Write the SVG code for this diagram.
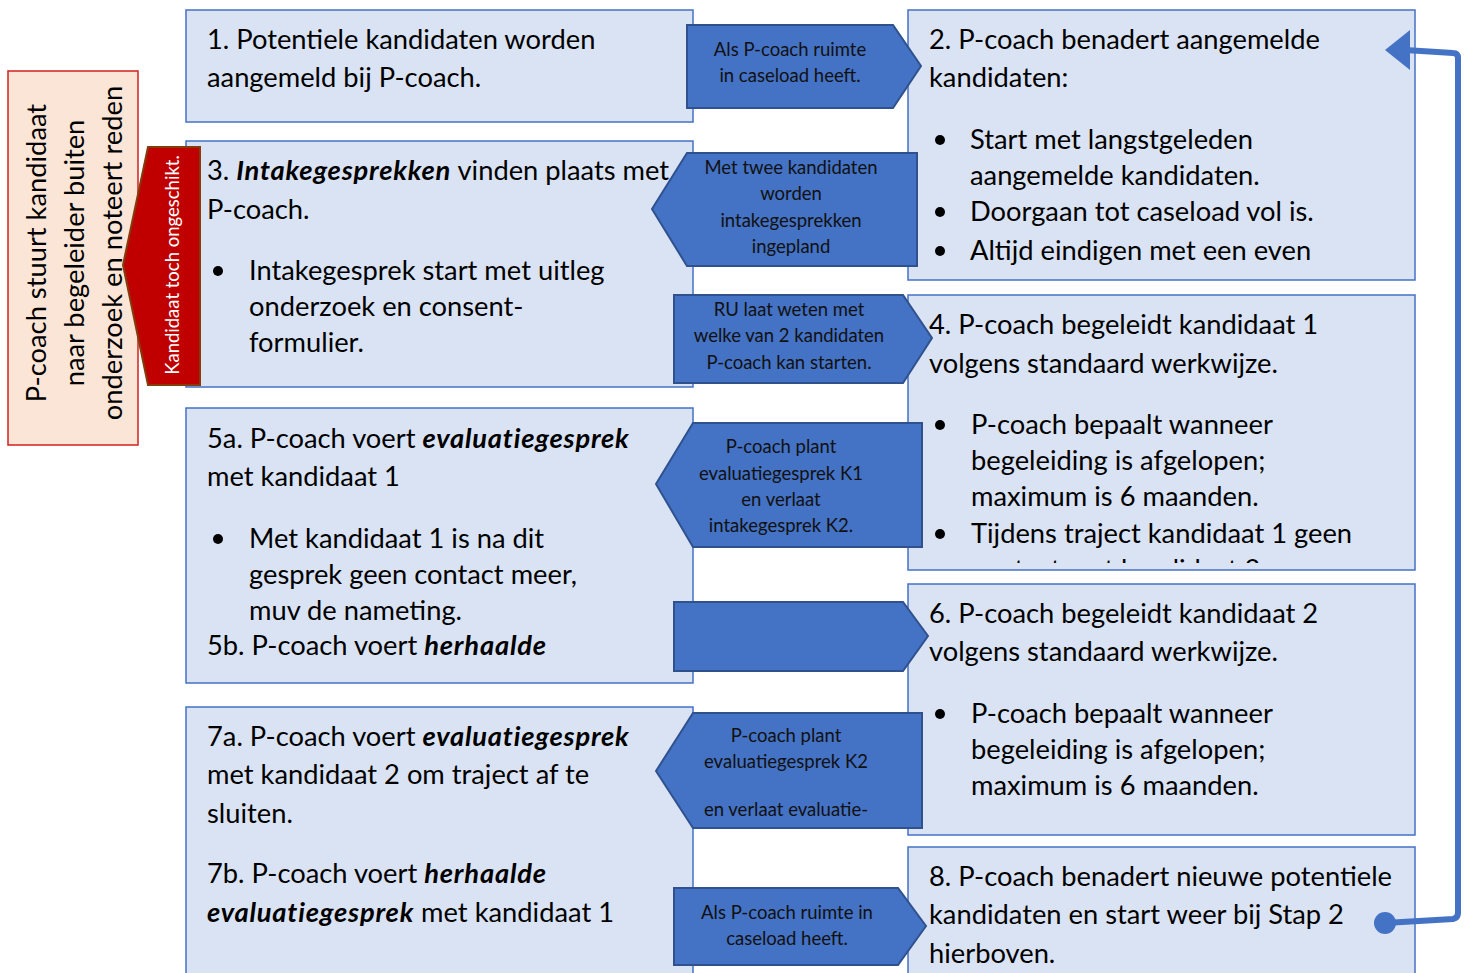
<svg xmlns="http://www.w3.org/2000/svg" width="1469" height="973" viewBox="0 0 1469 973">
<style>
.box{fill:#DAE3F3;stroke:#4472C4;stroke-width:1.5}
.arr{fill:#4472C4;stroke:#2F528F;stroke-width:2}
.t{font-family:Lato,"Liberation Sans",sans-serif;font-size:27.3px;fill:#000}
.s{font-family:Lato,"Liberation Sans",sans-serif;font-size:18.5px;fill:#111;text-anchor:middle}
.bi{font-weight:bold;font-style:italic;letter-spacing:0.8px}
.dot{fill:#000}
</style>
<defs>
<clipPath id="c4"><rect x="908" y="295" width="507" height="268"/></clipPath>
</defs>
<rect width="1469" height="973" fill="#fff"/>

<g id="reject-box">
<rect x="8" y="71" width="130" height="374" fill="#FBE5D6" stroke="#D42020" stroke-width="1.5"/>
<g class="t" text-anchor="middle">
<text transform="translate(46,253) rotate(-90)">P-coach stuurt kandidaat</text>
<text transform="translate(84,253) rotate(-90)">naar begeleider buiten</text>
<text transform="translate(122,253) rotate(-90)">onderzoek en noteert reden</text>
</g>
</g>

<g id="node1">
<rect class="box" x="186" y="10" width="507" height="112"/>
<text class="t" x="207" y="49">1. Potentiele kandidaten worden</text>
<text class="t" x="207" y="87">aangemeld bij P-coach.</text>
</g>

<g id="node3">
<rect class="box" x="186" y="141" width="507" height="246"/>
<text class="t" x="207" y="180">3. <tspan class="bi">Intakegesprekken</tspan> vinden plaats met</text>
<text class="t" x="207" y="219">P-coach.</text>
<circle class="dot" cx="218" cy="271" r="5"/>
<text class="t" x="249" y="280">Intakegesprek start met uitleg</text>
<text class="t" x="249" y="316">onderzoek en consent-</text>
<text class="t" x="249" y="352">formulier.</text>
</g>

<g id="node5">
<rect class="box" x="186" y="408" width="507" height="275"/>
<text class="t" x="207" y="448">5a. P-coach voert <tspan class="bi">evaluatiegesprek</tspan></text>
<text class="t" x="207" y="486">met kandidaat 1</text>
<circle class="dot" cx="218" cy="539" r="5"/>
<text class="t" x="249" y="548">Met kandidaat 1 is na dit</text>
<text class="t" x="249" y="584">gesprek geen contact meer,</text>
<text class="t" x="249" y="620">muv de nameting.</text>
<text class="t" x="207" y="655">5b. P-coach voert <tspan class="bi">herhaalde</tspan></text>
</g>

<g id="node7">
<rect class="box" x="186" y="707" width="507" height="280"/>
<text class="t" x="207" y="746">7a. P-coach voert <tspan class="bi">evaluatiegesprek</tspan></text>
<text class="t" x="207" y="784">met kandidaat 2 om traject af te</text>
<text class="t" x="207" y="823">sluiten.</text>
<text class="t" x="207" y="883">7b. P-coach voert <tspan class="bi">herhaalde</tspan></text>
<text class="t" x="207" y="922"><tspan class="bi">evaluatiegesprek</tspan> met kandidaat 1</text>
</g>

<g id="node2">
<rect class="box" x="908" y="10" width="507" height="270"/>
<text class="t" x="929" y="49">2. P-coach benadert aangemelde</text>
<text class="t" x="929" y="87">kandidaten:</text>
<circle class="dot" cx="940" cy="140" r="5"/>
<text class="t" x="970" y="149">Start met langstgeleden</text>
<text class="t" x="970" y="185">aangemelde kandidaten.</text>
<circle class="dot" cx="940" cy="212" r="5"/>
<text class="t" x="970" y="221">Doorgaan tot caseload vol is.</text>
<circle class="dot" cx="940" cy="251" r="5"/>
<text class="t" x="970" y="260">Altijd eindigen met een even</text>
</g>

<g id="node4">
<rect class="box" x="908" y="295" width="507" height="275"/>
<text class="t" x="929" y="334">4. P-coach begeleidt kandidaat 1</text>
<text class="t" x="929" y="373">volgens standaard werkwijze.</text>
<circle class="dot" cx="940" cy="425" r="5"/>
<text class="t" x="971" y="434">P-coach bepaalt wanneer</text>
<text class="t" x="971" y="470">begeleiding is afgelopen;</text>
<text class="t" x="971" y="506">maximum is 6 maanden.</text>
<circle class="dot" cx="940" cy="534" r="5"/>
<text class="t" x="971" y="543">Tijdens traject kandidaat 1 geen</text>
<text class="t" x="971" y="579" clip-path="url(#c4)">contact met kandidaat 2</text>
</g>

<g id="node6">
<rect class="box" x="908" y="584" width="507" height="251"/>
<text class="t" x="929" y="623">6. P-coach begeleidt kandidaat 2</text>
<text class="t" x="929" y="661">volgens standaard werkwijze.</text>
<circle class="dot" cx="940" cy="714" r="5"/>
<text class="t" x="971" y="723">P-coach bepaalt wanneer</text>
<text class="t" x="971" y="759">begeleiding is afgelopen;</text>
<text class="t" x="971" y="795">maximum is 6 maanden.</text>
</g>

<g id="node8">
<rect class="box" x="908" y="847" width="507" height="140"/>
<text class="t" x="929" y="886">8. P-coach benadert nieuwe potentiele</text>
<text class="t" x="929" y="924">kandidaten en start weer bij Stap 2</text>
<text class="t" x="929" y="963">hierboven.</text>
</g>

<g id="arrow-1-2">
<polygon class="arr" points="687,25 893,25 921,66 893,108 687,108"/>
<text class="s" x="790" y="56">Als P-coach ruimte</text>
<text class="s" x="790" y="82">in caseload heeft.</text>
</g>
<g id="arrow-2-3">
<polygon class="arr" points="917,153 917,266 687,266 652,209 687,153"/>
<text class="s" x="791" y="174">Met twee kandidaten</text>
<text class="s" x="791" y="200">worden</text>
<text class="s" x="791" y="227">intakegesprekken</text>
<text class="s" x="791" y="253">ingepland</text>
</g>
<g id="arrow-3-4">
<polygon class="arr" points="674,295 903,295 932,338 903,383 674,383"/>
<text class="s" x="789" y="316">RU laat weten met</text>
<text class="s" x="789" y="342">welke van 2 kandidaten</text>
<text class="s" x="789" y="369">P-coach kan starten.</text>
</g>
<g id="arrow-4-5">
<polygon class="arr" points="922,423 922,547 693,547 656,484 693,423"/>
<text class="s" x="781" y="453">P-coach plant</text>
<text class="s" x="781" y="480">evaluatiegesprek K1</text>
<text class="s" x="781" y="506">en verlaat</text>
<text class="s" x="781" y="532">intakegesprek K2.</text>
</g>
<g id="arrow-5-6">
<polygon class="arr" points="674,602 903,602 928,636 903,671 674,671"/>
</g>
<g id="arrow-6-7">
<polygon class="arr" points="922,713 922,828 693,828 656,771 693,713"/>
<text class="s" x="786" y="742">P-coach plant</text>
<text class="s" x="786" y="768">evaluatiegesprek K2</text>
<text class="s" x="786" y="816">en verlaat evaluatie-</text>
</g>
<g id="arrow-7-8">
<polygon class="arr" points="674,888 898,888 926,926 898,965 674,965"/>
<text class="s" x="787" y="919">Als P-coach ruimte in</text>
<text class="s" x="787" y="945">caseload heeft.</text>
</g>

<g id="arrow-reject">
<polygon points="200,147 200,385 148,385 123,265 148,147" fill="#C00000" stroke="#843C0C" stroke-width="2"/>
<text transform="translate(179,265) rotate(-90)" font-family="Lato,'Liberation Sans',sans-serif" font-size="18.5px" fill="#fff" text-anchor="middle">Kandidaat toch ongeschikt.</text>
</g>

<g id="connectors">
<path d="M1385,923 L1453,919 Q1458,918 1458,913 L1458,58 Q1458,53 1453,53 L1405,50" fill="none" stroke="#4472C4" stroke-width="6"/>
<circle cx="1385" cy="923" r="11" fill="#4472C4"/>
<polygon points="1385,50 1410,30 1410,70" fill="#4472C4"/>
</g>
</svg>
